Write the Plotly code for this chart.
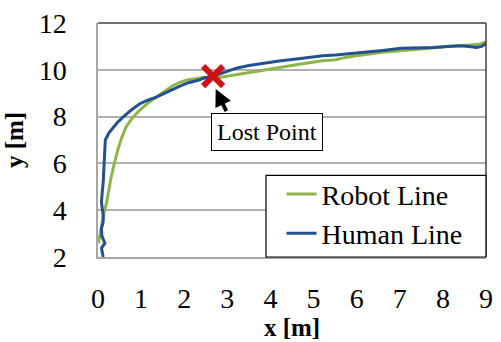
import plotly.graph_objects as go

# Human line (blue)
human_x = [0.12, 0.08, 0.16, 0.09, 0.08, 0.12, 0.12, 0.08, 0.10, 0.12, 0.14, 0.16, 0.17, 0.25, 0.35,
           0.45, 0.58, 0.75, 0.96, 1.15, 1.34, 1.55, 1.72, 1.90, 2.10, 2.32, 2.48, 2.65, 2.78, 3.00,
           3.23, 3.50, 3.84, 4.20, 4.60, 4.90, 5.21, 5.51, 5.74, 6.00, 6.27, 6.60, 7.03, 7.40, 7.79,
           8.10, 8.40, 8.60, 8.78, 8.90, 9.00]
human_y = [2.00, 2.38, 2.59, 2.90, 3.22, 3.50, 3.78, 4.34, 4.80, 5.18, 5.90, 6.58, 7.00, 7.30, 7.55,
           7.75, 7.98, 8.25, 8.54, 8.70, 8.82, 9.00, 9.17, 9.30, 9.45, 9.55, 9.66, 9.72, 9.80, 9.95,
           10.08, 10.18, 10.29, 10.38, 10.46, 10.53, 10.60, 10.63, 10.67, 10.70, 10.75, 10.82, 10.92, 10.93, 10.95,
           11.00, 11.03, 11.00, 10.95, 11.00, 11.13]

# Robot line (green)
robot_x = [0.01, 0.05, 0.08, 0.13, 0.20, 0.25, 0.31, 0.38, 0.46, 0.55, 0.65, 0.80, 0.96, 1.15, 1.34,
           1.52, 1.72, 1.94, 2.10, 2.25, 2.48, 2.78, 3.00, 3.23, 3.50, 3.84, 4.20, 4.60, 4.90, 5.21,
           5.51, 5.74, 6.00, 6.27, 6.60, 7.03, 7.40, 7.79, 8.10, 8.40, 8.85, 9.00]
robot_y = [2.59, 3.00, 3.36, 3.80, 4.34, 4.90, 5.46, 6.00, 6.58, 7.10, 7.56, 7.95, 8.26, 8.57, 8.82,
           9.08, 9.31, 9.49, 9.58, 9.62, 9.68, 9.66, 9.73, 9.80, 9.90, 10.01, 10.10, 10.22, 10.30, 10.39,
           10.43, 10.53, 10.60, 10.68, 10.75, 10.81, 10.88, 10.95, 11.00, 11.03, 11.09, 11.20]

lost_x = [2.67]
lost_y = [9.73]

x_ticks = [0, 1, 2, 3, 4, 5, 6, 7, 8, 9]
y_ticks = [2, 4, 6, 8, 10, 12]

FONT = "Liberation Serif, Times New Roman, serif"
BLUE = "#24508E"
GREEN = "#8DB548"

fig = go.Figure()
fig.add_trace(go.Scatter(x=robot_x, y=robot_y, mode="lines", name="Robot Line",
                         line=dict(color=GREEN, width=3)))
fig.add_trace(go.Scatter(x=human_x, y=human_y, mode="lines", name="Human Line",
                         line=dict(color=BLUE, width=3)))
fig.add_trace(go.Scatter(x=lost_x, y=lost_y, mode="markers", showlegend=False,
                         marker=dict(symbol="x-thin", size=20, color="#D01018",
                                     line=dict(width=6, color="#D01018"))))

# Arrow from the label box to the lost point
fig.add_annotation(x=2.73, y=9.18, ax=3.0, ay=8.15, axref="x", ayref="y",
                   xref="x", yref="y", text=" ", showarrow=True,
                   font=dict(size=1),
                   arrowhead=2, arrowsize=0.9, arrowwidth=3.8, arrowcolor="black")
# Label box
fig.add_annotation(x=3.92, y=7.36, xref="x", yref="y", text="Lost Point", showarrow=False,
                   font=dict(family=FONT, size=24, color="black"),
                   bordercolor="black", borderwidth=1, bgcolor="white",
                   borderpad=5, xanchor="center", yanchor="middle")

# Plot frame: dark top and right edges
fig.add_shape(type="line", xref="paper", yref="paper", x0=0, x1=1, y0=1, y1=1,
              line=dict(color="#404040", width=1.5))
fig.add_shape(type="line", xref="paper", yref="paper", x0=1, x1=1, y0=0, y1=1,
              line=dict(color="#404040", width=1.5))
# Legend frame
fig.add_shape(type="rect", xref="paper", yref="paper", x0=0.433, x1=1, y0=0, y1=0.349,
              line=dict(color="black", width=1.2), fillcolor="white", layer="above")

fig.update_layout(
    width=501, height=342,
    margin=dict(l=98, r=8, t=21, b=83),
    paper_bgcolor="white", plot_bgcolor="white",
    font=dict(family=FONT, size=28, color="black"),
    showlegend=True,
    legend=dict(x=0.473, y=0.375, xanchor="left", yanchor="top",
                bgcolor="rgba(0,0,0,0)", borderwidth=0,
                font=dict(family=FONT, size=28, color="black"),
                itemwidth=30, tracegroupgap=0),
    xaxis=dict(range=[0, 9], tickvals=x_ticks, showgrid=False, zeroline=False,
               showline=True, linecolor="#A6A6A6", linewidth=1.5,
               ticks="", ticklabelstandoff=16,
               title=dict(text="<b>x [m]</b>", font=dict(family=FONT, size=25), standoff=2)),
    yaxis=dict(range=[2, 12], tickvals=y_ticks, showgrid=True, gridcolor="#B0B0B0", gridwidth=1.5,
               zeroline=False, showline=True, linecolor="#A6A6A6", linewidth=1.5,
               ticks="", ticklabelstandoff=24,
               title=dict(text="<b>y [m]</b>", font=dict(family=FONT, size=25), standoff=8)),
)

fig.write_html("out.html")
